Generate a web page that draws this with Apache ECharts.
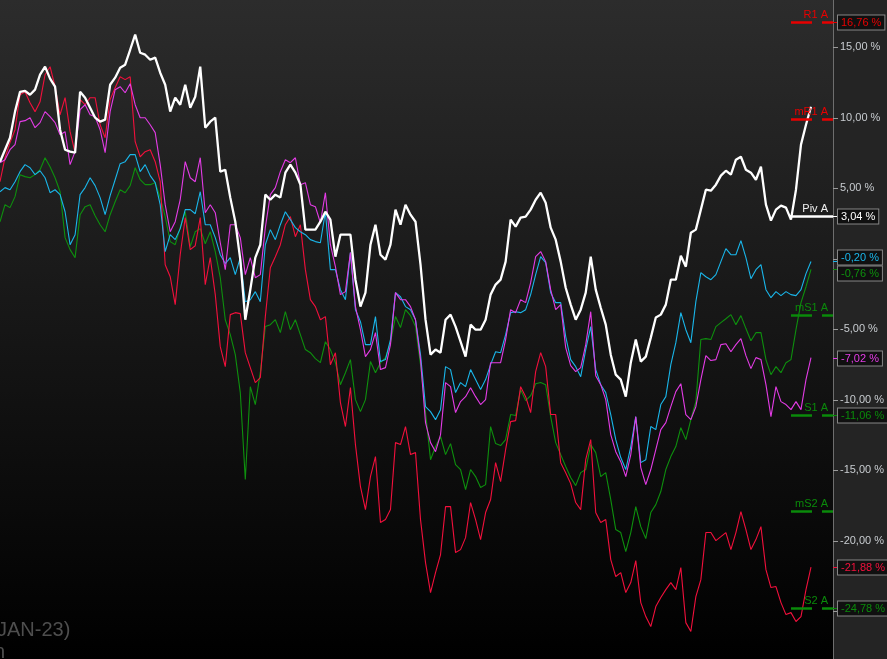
<!DOCTYPE html>
<html lang="en">
<head>
    <meta charset="UTF-8">
    <script src="https://cdn.jsdelivr.net/npm/echarts@6/dist/echarts.min.js"></script>
    <title>Performance</title>
    <style>
        html, body { margin: 0; padding: 0; background: #242424; overflow: hidden; }
        #main { width: 887px; height: 659px; }
    </style>
</head>
<body>
    <div id="main"></div>

    <script>
        // percentage performance per series, one point per bar period
        var whiteVals = [
            6.88, 7.73, 8.58, 10.43, 11.84, 11.91, 11.63, 11.99, 13.05, 13.62,
            12.77, 12.20, 9.15, 7.73, 7.59, 7.52, 11.84, 11.42, 10.71, 10.00,
            9.72, 9.86, 12.34, 12.84, 13.55, 13.76, 14.82, 15.89, 14.61, 14.47,
            14.11, 14.26, 13.19, 12.34, 10.43, 11.42, 10.92, 12.34, 10.71, 11.49,
            13.62, 9.29, 9.72, 10.00, 6.17, 6.31, 4.33, 2.62, -0.07, -4.33,
            -2.20, 0.07, 0.99, 4.54, 4.18, 4.54, 4.33, 6.10, 6.67, 6.10,
            5.25, 2.06, 2.06, 2.06, 2.62, 3.33, 2.77, 0.14, 1.70, 1.70,
            1.70, -1.49, -3.40, -2.41, 0.99, 2.41, 0.28, -0.07, 0.99, 3.48,
            2.41, 3.83, 3.12, 2.62, -0.43, -4.33, -6.81, -6.45, -6.67, -4.33,
            -3.97, -4.82, -5.89, -6.95, -4.68, -5.04, -5.04, -4.33, -2.55, -1.84,
            -1.49, -0.21, 2.77, 2.27, 2.91, 2.98, 3.48, 4.18, 4.68, 3.97,
            2.20, 1.35, -0.21, -2.06, -3.26, -4.33, -3.62, -2.41, 0.14, -2.20,
            -3.48, -4.68, -6.81, -8.23, -8.58, -9.79, -7.38, -5.74, -7.30, -6.95,
            -5.60, -4.18, -3.97, -3.26, -1.49, -1.49, 0.21, -0.57, 1.84, 2.06,
            3.48, 4.89, 4.82, 5.25, 5.89, 6.24, 5.96, 7.02, 7.23, 6.31,
            6.10, 5.60, 6.52, 3.83, 2.70, 3.48, 3.76, 3.62, 2.77, 4.89,
            8.09, 9.50, 10.78
        ];
        var cyanVals = [
            4.75, 5.04, 4.89, 5.46, 6.17, 6.67, 6.45, 5.96, 6.24, 5.74,
            4.68, 4.89, 4.54, 3.33, 0.99, 1.70, 4.54, 5.04, 5.74, 5.18,
            4.33, 3.12, 4.47, 5.60, 6.74, 6.88, 7.38, 7.38, 6.17, 6.67,
            5.89, 5.39, 3.83, 0.50, 1.70, 1.35, 2.13, 3.48, 3.48, 3.19,
            4.75, 2.41, 2.41, 1.49, 0.28, -0.35, 0.07, -1.13, 0.07, -3.05,
            -2.91, -2.34, -3.05, 0.99, 2.06, 1.35, 2.41, 3.33, 2.77, 2.20,
            1.91, 1.70, 1.35, 1.21, 1.13, 3.33, -0.78, -0.78, -2.20, -2.91,
            0.43, -3.62, -4.47, -6.10, -6.10, -4.11, -7.30, -7.16, -5.74, -2.41,
            -2.70, -3.40, -3.62, -4.33, -6.81, -10.50, -10.85, -11.42, -10.71, -7.66,
            -7.87, -9.50, -8.79, -9.08, -7.87, -8.58, -9.29, -8.58, -7.52, -6.60,
            -6.67, -5.39, -3.83, -3.76, -3.83, -3.62, -2.55, -1.13, 0.14, -0.28,
            -2.41, -3.12, -3.12, -5.53, -7.16, -7.66, -8.37, -6.45, -4.82, -7.87,
            -8.94, -9.50, -11.06, -12.84, -14.11, -14.96, -13.33, -11.21, -14.47, -14.26,
            -11.91, -12.13, -10.35, -9.79, -7.52, -5.96, -3.83, -5.04, -5.96, -3.05,
            -0.99, -1.28, -1.49, -1.13, -0.21, 0.71, 0.28, 0.28, 1.28, 0.07,
            -1.42, -0.78, -0.43, -2.20, -2.77, -2.34, -2.62, -2.34, -2.55, -2.62,
            -2.20, -1.06, -0.20
        ];
        var magentaVals = [
            6.81, 7.02, 7.73, 8.09, 9.72, 9.79, 10.00, 9.29, 9.65, 10.43,
            10.07, 9.65, 8.79, 9.01, 6.67, 7.59, 10.57, 10.92, 10.21, 10.07,
            9.15, 7.52, 10.43, 11.99, 12.20, 11.77, 12.41, 10.92, 10.00, 10.00,
            9.50, 8.94, 6.67, 3.83, 1.91, 2.62, 4.18, 6.88, 5.74, 5.46,
            7.16, 3.26, 3.83, 3.26, 1.13, -0.78, 2.41, 2.41, 1.49, -1.13,
            0.07, -1.35, -1.13, 2.20, 4.54, 5.04, 6.17, 7.02, 6.81, 7.16,
            5.25, 5.39, 3.83, 3.69, 2.55, 4.68, 0.99, -0.57, -2.55, -2.34,
            0.43, -3.40, -5.04, -6.95, -6.45, -5.25, -7.87, -7.73, -6.10, -2.41,
            -2.91, -2.91, -3.40, -4.33, -7.16, -11.63, -13.05, -13.69, -12.48, -8.79,
            -9.08, -10.92, -10.14, -9.79, -9.15, -9.79, -10.35, -10.00, -7.38, -7.38,
            -7.38, -5.74, -3.62, -3.83, -2.91, -3.12, -1.70, 0.14, 0.50, -0.21,
            -2.20, -3.62, -3.26, -6.31, -7.59, -8.01, -7.73, -6.10, -3.76, -8.30,
            -8.94, -10.00, -12.48, -13.69, -14.40, -15.46, -13.90, -11.21, -14.82, -16.03,
            -14.96, -13.55, -12.13, -11.63, -10.50, -9.43, -8.87, -11.06, -11.42, -10.50,
            -8.58, -6.88, -7.23, -7.16, -6.10, -6.03, -6.60, -6.10, -5.67, -6.88,
            -7.80, -7.02, -7.16, -8.94, -11.21, -9.08, -10.14, -10.35, -10.71, -10.14,
            -10.71, -8.58, -7.02
        ];
        var greenVals = [
            2.62, 3.83, 3.62, 4.40, 5.96, 5.82, 5.74, 5.96, 6.31, 7.16,
            6.52, 5.74, 4.75, 1.49, 0.64, 0.07, 3.12, 3.69, 3.83, 3.05,
            2.41, 1.91, 3.12, 4.04, 4.89, 4.68, 5.18, 6.45, 5.60, 5.25,
            5.25, 5.39, 4.33, 2.98, 1.21, 0.99, 2.20, 3.33, 0.85, 1.91,
            2.13, 1.06, 1.91, 0.50, -1.35, -4.33, -5.39, -6.81, -9.50, -15.67,
            -9.08, -10.35, -8.09, -4.82, -4.68, -4.33, -5.25, -3.76, -5.04, -4.33,
            -5.39, -6.45, -6.67, -7.09, -7.38, -5.89, -6.45, -7.38, -8.94, -8.09,
            -7.16, -10.00, -10.85, -10.00, -7.30, -8.09, -7.38, -7.02, -5.96, -4.11,
            -4.89, -3.62, -4.04, -4.82, -7.52, -10.92, -14.26, -13.33, -12.62, -13.90,
            -13.12, -14.61, -14.96, -16.38, -14.96, -15.46, -16.24, -16.03, -11.91, -13.12,
            -13.26, -12.84, -11.06, -11.13, -9.29, -10.07, -9.72, -8.87, -8.79, -8.94,
            -11.21, -13.05, -13.90, -14.75, -15.53, -16.10, -15.18, -14.96, -13.19, -13.76,
            -15.46, -15.18, -17.09, -19.22, -19.43, -20.78, -19.43, -17.59, -19.01, -19.86,
            -18.01, -17.45, -16.52, -14.96, -14.04, -13.33, -11.99, -12.84, -11.42, -10.14,
            -5.74, -5.67, -5.74, -4.82, -4.54, -4.26, -3.97, -4.68, -4.04, -4.96,
            -5.82, -5.25, -5.25, -7.16, -8.23, -7.66, -8.09, -7.38, -7.16, -5.04,
            -3.12, -1.99, -0.76
        ];
        var redVals = [
            5.46, 7.16, 8.23, 9.15, 11.63, 11.84, 11.06, 10.43, 11.13, 13.05,
            13.62, 12.20, 10.21, 11.42, 9.01, 7.52, 11.28, 10.92, 11.42, 11.42,
            9.50, 8.58, 11.28, 12.13, 12.91, 12.70, 12.91, 8.30, 7.23, 7.59,
            7.73, 6.88, 5.46, -0.43, -1.28, -3.26, 0.28, 2.91, 0.64, 0.92,
            2.91, -1.84, 0.07, -2.55, -6.24, -7.66, -3.97, -3.83, -3.90, -6.67,
            -7.73, -8.79, -8.44, -4.11, -0.64, 0.14, 0.99, 2.41, 2.98, 1.56,
            2.41, -0.78, -2.91, -3.40, -4.33, -4.11, -7.52, -6.67, -10.21, -11.91,
            -9.15, -13.19, -16.17, -17.80, -15.46, -14.04, -18.72, -18.51, -17.80, -13.05,
            -13.19, -11.91, -13.90, -13.76, -18.51, -21.56, -23.69, -22.27, -20.99, -17.59,
            -17.59, -20.85, -20.64, -19.79, -17.30, -18.51, -19.93, -18.01, -17.09, -14.47,
            -15.82, -13.55, -11.56, -11.49, -9.08, -9.79, -10.92, -8.01, -6.67, -7.66,
            -11.06, -11.06, -14.47, -15.18, -15.96, -17.30, -17.80, -14.26, -12.84, -18.01,
            -18.72, -18.51, -21.35, -22.55, -22.27, -23.69, -22.98, -21.42, -24.40, -25.39,
            -26.10, -24.68, -24.04, -23.48, -22.98, -23.48, -21.91, -25.82, -26.45, -23.97,
            -22.77, -19.43, -19.43, -20.00, -19.72, -19.43, -20.64, -19.43, -17.94, -19.22,
            -20.64, -19.93, -19.01, -22.06, -23.33, -23.26, -24.40, -25.25, -25.11, -25.74,
            -25.39, -23.48, -21.88
        ];

        // pivot levels drawn at the right edge
        var pivotNames = ['R1 A', 'mR1 A', 'Piv A', 'mS1 A', 'S1 A', 'mS2 A', 'S2 A'];
        var pivotValues = [16.76, 9.90, 3.04, -4.01, -11.06, -17.92, -24.78];
        var pivotColors = ['#e80000', '#e80000', '#ffffff', '#0a8a0a', '#0a8a0a', '#0a8a0a', '#0a8a0a'];
        var pivotBoxed = [true, false, true, false, true, false, true];

        // y axis range and tick labels
        var yMin = -28.4, yMax = 18.35;
        var yTickValues = [-25, -20, -15, -10, -5, 0, 5, 10, 15];

        var seriesList = [
            { name: 'green', values: greenVals, color: '#0e900e', width: 1.1 },
            { name: 'red', values: redVals, color: '#f2103c', width: 1.1 },
            { name: 'cyan', values: cyanVals, color: '#1ab6ea', width: 1.1 },
            { name: 'magenta', values: magentaVals, color: '#e43ce6', width: 1.1 },
            { name: 'white', values: whiteVals, color: '#ffffff', width: 2.3 }
        ];

        function pct(v) {
            return v.toFixed(2).replace('.', ',') + ' %';
        }

        var chartDom = document.getElementById('main');
        var myChart = echarts.init(chartDom);
        var lastIndex = whiteVals.length - 1;
        var plotRight = 54;

        var option = {
            animation: false,
            backgroundColor: '#242424',
            grid: {
                left: 0,
                right: plotRight,
                top: 0,
                bottom: 0,
                show: false
            },
            xAxis: {
                type: 'value',
                min: 0,
                max: lastIndex * 833 / 812,
                show: false
            },
            yAxis: {
                type: 'value',
                position: 'right',
                min: yMin,
                max: yMax,
                splitLine: { show: false },
                axisLine: { show: false },
                axisTick: { show: false },
                axisLabel: {
                    margin: 8,
                    color: '#c8ccd0',
                    fontSize: 11,
                    fontFamily: 'Liberation Sans, Arial, sans-serif',
                    customValues: yTickValues,
                    formatter: pct
                }
            },
            series: seriesList.map(function (s) {
                return {
                    name: s.name,
                    type: 'line',
                    symbol: 'none',
                    silent: true,
                    lineStyle: { color: s.color, width: s.width },
                    data: s.values.map(function (v, i) { return [i, v]; })
                };
            })
        };
        myChart.setOption(option);

        // overlays: plot background, axis line and ticks, pivot lines, value boxes, watermark text
        var axisX = myChart.getWidth() - plotRight;
        var lastPx = myChart.convertToPixel({ xAxisIndex: 0 }, lastIndex);
        var graphics = [];
        var boxes = [];
        var font = '11px "Liberation Sans", Arial, sans-serif';

        function yPx(v) {
            return Math.round(myChart.convertToPixel({ yAxisIndex: 0 }, v)) + 0.5;
        }

        graphics.push({
            type: 'rect', z: -10, silent: true,
            shape: { x: -2, y: 0, width: axisX + 2, height: myChart.getHeight() },
            style: {
                fill: new echarts.graphic.LinearGradient(0, 0, 0, 1, [
                    { offset: 0, color: '#2c2c2c' },
                    { offset: 1, color: '#000000' }
                ])
            }
        });
        graphics.push({
            type: 'line', z: 8,
            shape: { x1: axisX + 0.5, y1: 0, x2: axisX + 0.5, y2: myChart.getHeight() },
            style: { stroke: '#6e6e6e', lineWidth: 1 }
        });

        yTickValues.forEach(function (t) {
            var y = yPx(t);
            graphics.push({
                type: 'line', z: 8,
                shape: { x1: axisX, y1: y, x2: axisX + 5, y2: y },
                style: { stroke: '#9a9a9a', lineWidth: 1 }
            });
        });

        pivotValues.forEach(function (v, i) {
            var y = yPx(v);
            var c = pivotColors[i];
            if (pivotNames[i] === 'Piv A') {
                graphics.push({
                    type: 'line', z: 9,
                    shape: { x1: lastPx - 22, y1: y, x2: axisX, y2: y },
                    style: { stroke: c, lineWidth: 2.5 }
                });
            } else {
                graphics.push({
                    type: 'line', z: 9,
                    shape: { x1: lastPx - 20, y1: y, x2: lastPx + 1, y2: y },
                    style: { stroke: c, lineWidth: 2.5 }
                });
                graphics.push({
                    type: 'line', z: 9,
                    shape: { x1: lastPx + 11, y1: y, x2: axisX, y2: y },
                    style: { stroke: c, lineWidth: 2.5 }
                });
            }
            graphics.push({
                type: 'text', z: 9,
                x: axisX - 5, y: y - 2,
                style: {
                    text: pivotNames[i], fill: c === '#ffffff' ? '#f0f0f0' : c, font: font,
                    align: 'right', verticalAlign: 'bottom'
                }
            });
            if (pivotBoxed[i]) {
                boxes.push({ v: v, color: c });
            }
        });

        seriesList.forEach(function (s) {
            if (s.name !== 'white') {
                boxes.push({ v: s.values[s.values.length - 1], color: s.color });
            }
        });

        // keep the value boxes from overlapping
        boxes.forEach(function (b) { b.y = yPx(b.v); b.by = b.y; });
        boxes.sort(function (a, b) { return a.y - b.y; });
        for (var k = 1; k < boxes.length; k++) {
            var gap = boxes[k].by - boxes[k - 1].by;
            if (gap < 16) {
                var shift = (16 - gap) / 2;
                boxes[k - 1].by -= shift;
                boxes[k].by += shift;
            }
        }
        boxes.forEach(function (b) {
            graphics.push({
                type: 'line', z: 10,
                shape: { x1: axisX, y1: b.y, x2: axisX + 5, y2: b.y },
                style: { stroke: b.color, lineWidth: 1 }
            });
            graphics.push({
                type: 'text', z: 11,
                x: axisX + 5, y: b.by,
                style: {
                    text: pct(b.v), fill: b.color, font: font,
                    verticalAlign: 'middle',
                    backgroundColor: '#101010', borderColor: '#858585', borderWidth: 1,
                    padding: [2, 3, 1, 3]
                }
            });
        });

        graphics.push({
            type: 'text', z: 5, x: -3, y: 620,
            style: { text: 'JAN-23)', fill: '#4e4e4e', font: '20px "Liberation Sans", Arial, sans-serif', verticalAlign: 'top' }
        });
        graphics.push({
            type: 'text', z: 5, x: -6, y: 642,
            style: { text: 'n', fill: '#4e4e4e', font: '20px "Liberation Sans", Arial, sans-serif', verticalAlign: 'top' }
        });

        myChart.setOption({ graphic: graphics });
    </script>
</body>
</html>
